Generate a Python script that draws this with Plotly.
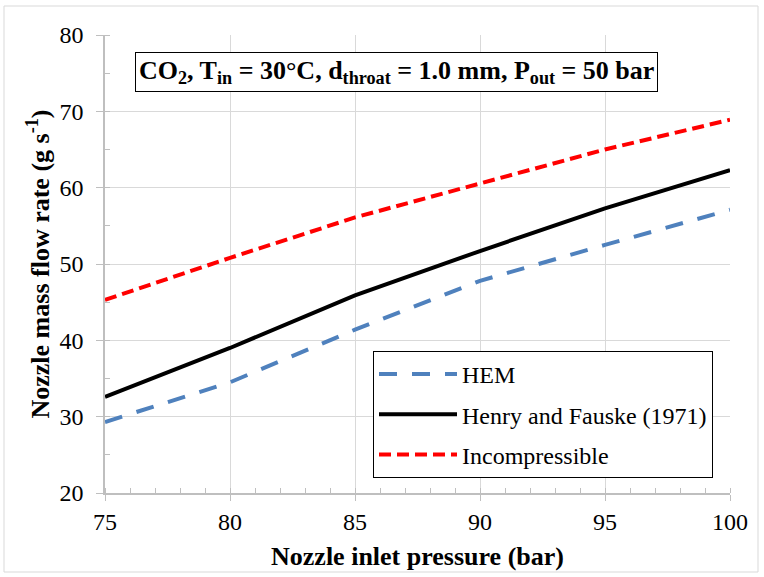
import plotly.graph_objects as go

pressure = [75, 80, 85, 90, 95, 100]
hem = [29.3, 34.5, 41.4, 47.8, 52.5, 57.1]
henry_fauske = [32.6, 39.0, 45.9, 51.7, 57.3, 62.3]
incompressible = [45.3, 50.8, 56.1, 60.6, 65.0, 68.9]

FONT = "Liberation Serif, Times New Roman, serif"
GRID = "#d9d9d9"
AXIS = "#bfbfbf"

fig = go.Figure()
fig.add_trace(go.Scatter(x=pressure, y=hem, mode="lines", name="HEM", legendgroup="a",
                         line=dict(color="#4F81BD", width=4, dash="18px,15px")))
fig.add_trace(go.Scatter(x=pressure, y=henry_fauske, mode="lines", name="Henry and Fauske (1971)",
                         legendgroup="b", line=dict(color="black", width=4)))
fig.add_trace(go.Scatter(x=pressure, y=incompressible, mode="lines", name="Incompressible",
                         legendgroup="c", line=dict(color="#FF0000", width=4, dash="12px,6px")))

L, R, T, B = 105, 34, 35, 84
W, H = 764, 577
pw, ph = W - L - R, H - T - B

def px(x):
    return (x - L) / pw

def py(y):
    return (H - B - y) / ph

fig.update_layout(
    width=W, height=H,
    margin=dict(l=L, r=R, t=T, b=B),
    paper_bgcolor="white", plot_bgcolor="white",
    font=dict(family=FONT, size=24, color="black"),
    showlegend=True,
    legend=dict(x=px(373), y=py(351), xanchor="left", yanchor="top",
                bordercolor="black", borderwidth=1, bgcolor="white",
                font=dict(family=FONT, size=24, color="black"),
                tracegroupgap=6, itemwidth=78),
    xaxis=dict(range=[75, 100], dtick=5, tick0=75, showgrid=True, gridcolor=GRID, gridwidth=1,
               showline=True, linecolor=AXIS, linewidth=1.5, zeroline=False,
               ticks="outside", ticklen=6, tickcolor=AXIS,
               minor=dict(dtick=1, ticks="inside", ticklen=5, tickcolor=AXIS, showgrid=False),
               tickfont=dict(family=FONT, size=24),
               title=dict(text="<b>Nozzle inlet pressure (bar)</b>", font=dict(family=FONT, size=26),
                          standoff=13)),
    yaxis=dict(range=[20, 80], dtick=10, tick0=20, showgrid=True, gridcolor=GRID, gridwidth=1,
               showline=True, linecolor=AXIS, linewidth=1.5, zeroline=False,
               ticks="outside", ticklen=7, tickcolor=AXIS, ticklabelstandoff=8,
               minor=dict(dtick=5, ticks="inside", ticklen=5, tickcolor=AXIS, showgrid=False),
               tickfont=dict(family=FONT, size=24),
               title=dict(text="<b>Nozzle mass flow rate (g s<sup>-1</sup>)</b>",
                          font=dict(family=FONT, size=26), standoff=2)),
)

fig.add_annotation(
    xref="paper", yref="paper", x=px(396), y=py(72), xanchor="center", yanchor="middle",
    text="<b>CO<sub>2</sub>, T<sub>in</sub> = 30°C, d<sub>throat</sub> = 1.0 mm, P<sub>out</sub> = 50 bar</b>",
    showarrow=False, font=dict(family=FONT, size=26, color="black"),
    bordercolor="black", borderwidth=1, borderpad=3, bgcolor="white",
)

fig.add_shape(type="rect", xref="paper", yref="paper",
              x0=px(4), x1=px(758), y0=py(572), y1=py(6),
              line=dict(color=GRID, width=1), layer="below")

fig.write_html("out.html")
